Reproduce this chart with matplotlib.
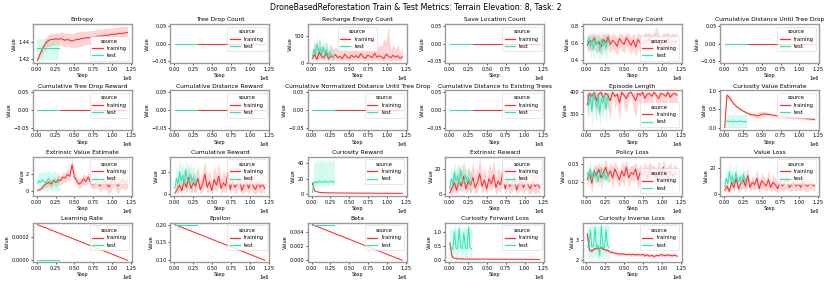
import numpy as np
import matplotlib
matplotlib.use("Agg")
import matplotlib.pyplot as plt
from matplotlib.lines import Line2D

# ---------------- data ----------------
train_steps = np.linspace(10_000, 1_200_000, 40)
test_steps = np.linspace(10_000, 300_000, 15)
lin_train_steps = [10_000, 1_200_000]
lin_test_steps = [10_000, 300_000]

entropy_tr = [1.418, 1.425, 1.431, 1.436, 1.440, 1.442, 1.443, 1.443, 1.444, 1.443,
              1.444, 1.443, 1.442, 1.443, 1.442, 1.441, 1.442, 1.443, 1.443, 1.444,
              1.444, 1.445, 1.445, 1.445, 1.446, 1.446, 1.447, 1.447, 1.447, 1.448,
              1.448, 1.448, 1.449, 1.449, 1.449, 1.450, 1.450, 1.450, 1.451, 1.451]
entropy_tr_err = [0.001, 0.003, 0.005, 0.006, 0.006, 0.007, 0.007, 0.007, 0.007, 0.007,
                  0.008, 0.008, 0.008, 0.008, 0.008, 0.008, 0.009, 0.009, 0.009, 0.009,
                  0.008, 0.008, 0.008, 0.008, 0.008, 0.008, 0.008, 0.008, 0.008, 0.008,
                  0.008, 0.008, 0.008, 0.008, 0.008, 0.008, 0.008, 0.008, 0.008, 0.007]
entropy_te = [1.433, 1.433, 1.433, 1.433, 1.433, 1.433, 1.433, 1.433, 1.433, 1.433,
              1.433, 1.433, 1.433, 1.433, 1.433]
entropy_te_lo = [1.419] * 15
entropy_te_hi = [1.443] * 15

recharge_tr = [80, 150, 60, 200, 120, 90, 180, 70, 130, 100, 150, 90, 120, 70, 160, 110,
               80, 140, 100, 130, 90, 170, 110, 80, 140, 120, 90, 180, 100, 130, 110, 70,
               160, 120, 90, 140, 100, 130, 80, 110]
recharge_tr_lo = [30, 60, 20, 80, 50, 30, 70, 20, 50, 40, 60, 30, 50, 20, 60, 40, 30, 50,
                  40, 50, 30, 70, 40, 30, 50, 40, 30, 70, 40, 50, 40, 20, 60, 40, 30, 50,
                  40, 50, 30, 40]
recharge_tr_hi = [200, 400, 250, 450, 300, 250, 400, 200, 350, 250, 300, 250, 350, 200,
                  400, 300, 250, 350, 250, 350, 250, 400, 300, 200, 350, 300, 250, 450,
                  250, 350, 300, 450, 400, 700, 250, 350, 250, 350, 200, 300]
recharge_te = [120, 250, 150, 350, 200, 280, 150, 300, 180, 250, 120, 200, 150, 100, 130]
recharge_te_lo = [40, 100, 50, 150, 80, 100, 50, 120, 60, 100, 40, 80, 50, 30, 50]
recharge_te_hi = [250, 450, 350, 500, 400, 480, 300, 480, 350, 400, 250, 350, 300, 200, 250]

ooe_tr = [0.57, 0.63, 0.60, 0.66, 0.58, 0.62, 0.55, 0.64, 0.60, 0.67, 0.58, 0.63, 0.60,
          0.56, 0.65, 0.61, 0.58, 0.66, 0.62, 0.57, 0.63, 0.55, 0.64, 0.60, 0.58, 0.63,
          0.61, 0.66, 0.59, 0.62, 0.64, 0.60, 0.57, 0.63, 0.61, 0.65, 0.59, 0.62, 0.60, 0.63]
ooe_tr_lo = [0.48, 0.53, 0.50, 0.55, 0.47, 0.52, 0.44, 0.54, 0.50, 0.57, 0.48, 0.53, 0.50,
             0.45, 0.55, 0.51, 0.48, 0.56, 0.52, 0.46, 0.53, 0.44, 0.54, 0.50, 0.48, 0.53,
             0.51, 0.56, 0.49, 0.52, 0.54, 0.50, 0.46, 0.53, 0.51, 0.55, 0.49, 0.52, 0.50, 0.53]
ooe_tr_hi = [0.66, 0.71, 0.70, 0.72, 0.68, 0.71, 0.66, 0.72, 0.70, 0.72, 0.68, 0.72, 0.70,
             0.66, 0.72, 0.71, 0.68, 0.72, 0.71, 0.67, 0.72, 0.66, 0.72, 0.70, 0.68, 0.72,
             0.71, 0.72, 0.69, 0.72, 0.80, 0.70, 0.67, 0.72, 0.71, 0.72, 0.69, 0.72, 0.70, 0.72]
ooe_te = [0.60, 0.66, 0.55, 0.63, 0.52, 0.65, 0.58, 0.62, 0.50, 0.64, 0.57, 0.61, 0.54, 0.63, 0.60]
ooe_te_lo = [0.48, 0.55, 0.40, 0.50, 0.38, 0.52, 0.45, 0.48, 0.38, 0.52, 0.44, 0.50, 0.40, 0.50, 0.48]
ooe_te_hi = [0.68, 0.72, 0.66, 0.72, 0.65, 0.72, 0.68, 0.72, 0.63, 0.72, 0.68, 0.72, 0.66, 0.72, 0.70]

eplen_tr = [340, 395, 380, 400, 360, 390, 400, 370, 395, 385, 360, 400, 380, 390, 350, 400,
            385, 370, 395, 400, 380, 360, 395, 385, 400, 370, 390, 395, 380, 400, 385, 370,
            395, 390, 380, 400, 375, 390, 395, 385]
eplen_tr_lo = [280, 350, 320, 380, 290, 340, 390, 300, 360, 330, 270, 390, 320, 350, 260,
               390, 330, 300, 360, 390, 320, 280, 360, 340, 390, 300, 350, 360, 320, 390,
               340, 300, 360, 350, 320, 390, 310, 350, 360, 340]
eplen_tr_hi = [400] * 40
eplen_te = [390, 340, 380, 310, 395, 360, 330, 385, 300, 370, 350, 390, 320, 380, 360]
eplen_te_lo = [330, 270, 320, 240, 350, 290, 260, 330, 235, 300, 280, 340, 250, 320, 300]
eplen_te_hi = [400] * 15

curval_tr = [0.00, 0.88, 0.82, 0.72, 0.64, 0.58, 0.53, 0.49, 0.45, 0.42, 0.39, 0.36, 0.35,
             0.34, 0.32, 0.33, 0.36, 0.37, 0.37, 0.36, 0.35, 0.34, 0.33, 0.32, 0.31, 0.30,
             0.29, 0.29, 0.28, 0.28, 0.27, 0.27, 0.26, 0.26, 0.25, 0.25, 0.24, 0.24, 0.23, 0.22]
curval_tr_err = [0.0, 0.08, 0.05, 0.04, 0.03, 0.03, 0.03, 0.03, 0.03, 0.03, 0.03, 0.03,
                 0.04, 0.05, 0.07, 0.09, 0.08, 0.06, 0.05, 0.04, 0.04, 0.03, 0.03, 0.03,
                 0.03, 0.03, 0.03, 0.03, 0.03, 0.03, 0.03, 0.03, 0.03, 0.03, 0.03, 0.03,
                 0.03, 0.03, 0.03, 0.03]
curval_te = [0.17, 0.18, 0.17, 0.16, 0.17, 0.18, 0.17, 0.17, 0.16, 0.17, 0.18, 0.17, 0.17, 0.16, 0.17]
curval_te_lo = [0.00] * 15
curval_te_hi = [0.33] * 15

extval_tr = [0.1, 0.2, 0.4, 0.7, 0.9, 1.0, 0.8, 1.2, 1.0, 1.3, 1.2, 1.6, 1.5, 1.9, 1.7,
             3.0, 1.6, 1.2, 0.8, 1.0, 1.4, 1.1, 1.6, 1.0, 0.7, 0.9, 1.1, 0.6, 0.9, 1.2,
             0.8, 0.5, 1.0, 1.3, 0.9, 0.6, 1.1, 1.3, 0.9, 1.2]
extval_tr_err = [0.05, 0.1, 0.2, 0.3, 0.4, 0.4, 0.4, 0.5, 0.5, 0.5, 0.5, 0.6, 0.5, 0.6,
                 0.6, 0.7, 0.6, 0.5, 0.5, 0.5, 0.6, 0.5, 0.6, 0.5, 0.5, 0.6, 0.6, 0.7,
                 0.7, 0.8, 0.7, 0.8, 0.9, 0.8, 0.8, 0.9, 0.8, 0.9, 0.8, 0.8]
extval_te = [0.9, 1.2, 1.0, 1.3, 1.1, 1.0, 1.2, 1.4, 1.1, 1.0, 1.3, 1.2, 1.1, 1.0, 1.2]
extval_te_lo = [0.0, 0.1, 0.0, 0.2, 0.1, 0.0, 0.1, 0.2, 0.1, 0.0, 0.2, 0.1, 0.0, 0.0, 0.1]
extval_te_hi = [2.0, 2.3, 2.1, 2.3, 2.2, 2.0, 2.2, 2.4, 2.1, 2.0, 2.3, 2.2, 2.1, 2.0, 2.2]

cumrew_tr = [1, 4, 8, 3, 12, 6, 15, 5, 10, 7, 14, 4, 9, 18, 6, 11, 3, 13, 8, 16, 5, 10, 7,
             19, 4, 12, 6, 9, 14, 3, 8, 11, 5, 13, 7, 4, 10, 6, 9, 5]
cumrew_tr_lo = [0, 0, 2, 0, 5, 1, 7, 0, 3, 1, 6, 0, 2, 9, 0, 4, 0, 5, 2, 8, 0, 3, 1, 10,
                0, 5, 0, 2, 6, 0, 2, 4, 0, 5, 1, 0, 3, 0, 2, 0]
cumrew_tr_hi = [5, 12, 18, 10, 24, 15, 28, 13, 20, 16, 26, 12, 20, 30, 15, 22, 10, 25, 18,
                28, 13, 21, 16, 30, 12, 24, 15, 19, 26, 10, 18, 22, 13, 25, 16, 12, 21, 15, 19, 13]
cumrew_te = [5, 14, 9, 20, 12, 17, 8, 22, 13, 10, 18, 11, 15, 9, 13]
cumrew_te_lo = [0, 4, 1, 8, 3, 6, 0, 10, 3, 1, 7, 2, 5, 0, 4]
cumrew_te_hi = [15, 26, 20, 32, 24, 28, 18, 31, 25, 20, 28, 22, 26, 18, 24]

currew_tr = [14, 4, 2.8, 2.2, 1.9, 1.7, 1.6, 1.5, 1.5, 1.4, 1.4, 1.4, 1.3, 1.3, 1.3, 1.3,
             1.2, 1.2, 1.2, 1.2, 1.2, 1.1, 1.1, 1.1, 1.1, 1.1, 1.1, 1.0, 1.0, 1.0, 1.0,
             1.0, 1.0, 1.0, 0.9, 0.9, 0.9, 0.9, 0.9, 0.9]
currew_tr_err = [2.0, 0.6, 0.3, 0.2, 0.2, 0.2, 0.15, 0.15, 0.15, 0.1, 0.1, 0.1, 0.1, 0.1,
                 0.1, 0.1, 0.1, 0.1, 0.1, 0.1, 0.1, 0.1, 0.1, 0.1, 0.1, 0.1, 0.1, 0.1,
                 0.1, 0.1, 0.1, 0.1, 0.1, 0.1, 0.1, 0.1, 0.1, 0.1, 0.1, 0.1]
currew_te = [2, 15, 16, 14, 17, 15, 16, 15, 17, 16, 15, 16, 17, 15, 16]
currew_te_lo = [0, 6, 12, 8, 13, 10, 12, 9, 13, 11, 10, 12, 13, 10, 12]
currew_te_hi = [5, 44, 38, 46, 40, 45, 42, 46, 39, 44, 43, 46, 41, 45, 46]

extrew_tr = [1, 5, 9, 3, 11, 6, 14, 4, 10, 7, 13, 5, 9, 16, 6, 11, 4, 12, 8, 15, 5, 10, 7,
             17, 4, 11, 6, 9, 13, 3, 8, 10, 5, 12, 7, 4, 10, 6, 8, 5]
extrew_tr_lo = [0, 0, 2, 0, 4, 1, 6, 0, 3, 1, 5, 0, 2, 8, 0, 4, 0, 5, 2, 7, 0, 3, 1, 9, 0,
                4, 0, 2, 5, 0, 2, 3, 0, 4, 1, 0, 3, 0, 2, 0]
extrew_tr_hi = [4, 13, 20, 11, 24, 15, 27, 12, 21, 16, 25, 13, 20, 28, 15, 22, 11, 24, 18,
                27, 13, 21, 16, 28, 12, 23, 15, 19, 25, 10, 18, 21, 13, 24, 16, 12, 21, 15, 18, 13]
extrew_te = [4, 12, 8, 17, 10, 15, 7, 19, 11, 9, 15, 10, 13, 8, 11]
extrew_te_lo = [0, 3, 1, 7, 2, 5, 0, 8, 3, 1, 6, 2, 4, 0, 3]
extrew_te_hi = [12, 22, 18, 26, 20, 24, 16, 25, 21, 18, 24, 19, 22, 16, 20]

polloss_tr = [0.021, 0.025, 0.019, 0.026, 0.023, 0.027, 0.022, 0.025, 0.028, 0.023, 0.026,
              0.022, 0.027, 0.024, 0.021, 0.026, 0.023, 0.028, 0.022, 0.025, 0.024, 0.027,
              0.021, 0.025, 0.023, 0.026, 0.022, 0.027, 0.024, 0.025, 0.022, 0.026, 0.023,
              0.028, 0.024, 0.022, 0.026, 0.023, 0.025, 0.024]
polloss_tr_err = [0.003, 0.004, 0.006, 0.004, 0.005, 0.004, 0.006, 0.004, 0.005, 0.004,
                  0.005, 0.006, 0.004, 0.005, 0.004, 0.005, 0.006, 0.004, 0.005, 0.004,
                  0.005, 0.004, 0.006, 0.005, 0.004, 0.005, 0.006, 0.004, 0.005, 0.004,
                  0.005, 0.006, 0.004, 0.005, 0.004, 0.006, 0.005, 0.004, 0.005, 0.004]
polloss_te = [0.025, 0.022, 0.027, 0.021, 0.026, 0.023, 0.025, 0.020, 0.024, 0.027, 0.022,
              0.025, 0.021, 0.024, 0.023]
polloss_te_err = [0.003, 0.004, 0.005, 0.003, 0.004, 0.003, 0.005, 0.003, 0.004, 0.005,
                  0.003, 0.004, 0.003, 0.004, 0.003]

valloss_tr = [3, 6, 2, 9, 5, 12, 4, 8, 11, 6, 14, 5, 9, 7, 12, 4, 10, 8, 6, 11, 5, 9, 7, 4,
              10, 6, 8, 12, 5, 7, 9, 6, 8, 5, 10, 7, 6, 8, 7, 6]
valloss_tr_err = [2, 3, 2, 5, 3, 7, 3, 5, 6, 4, 8, 3, 5, 4, 7, 3, 6, 5, 4, 7, 3, 6, 5, 3,
                  6, 4, 5, 8, 3, 5, 6, 4, 5, 3, 6, 5, 4, 5, 4, 4]
valloss_te = [6, 12, 8, 17, 10, 14, 7, 16, 11, 9, 13, 8, 15, 10, 12]
valloss_te_err = [4, 7, 5, 10, 6, 8, 4, 9, 7, 5, 8, 5, 9, 6, 7]

lr_tr = [0.0003, 0.0]
lr_te = [0.0, 0.0]
eps_tr = [0.2, 0.1]
eps_te = [0.2, 0.2]
beta_tr = [0.005, 0.0]
beta_te = [0.005, 0.005]

fwd_tr = [0.6, 0.12, 0.07, 0.055, 0.05, 0.048, 0.045, 0.045, 0.044, 0.043, 0.042, 0.042,
          0.041, 0.040, 0.040, 0.039, 0.039, 0.038, 0.038, 0.037, 0.037, 0.036, 0.036,
          0.035, 0.035, 0.035, 0.034, 0.034, 0.034, 0.033, 0.033, 0.033, 0.032, 0.032,
          0.032, 0.031, 0.031, 0.031, 0.030, 0.030]
fwd_tr_err = [0.05, 0.03] + [0.01] * 38
fwd_te = [0.4, 0.45, 0.38, 1.0, 0.42, 0.4, 1.1, 0.44, 0.41, 0.95, 0.43, 0.4, 1.15, 0.42, 0.4]
fwd_te_lo = [0.02, 0.0, 0.03, 0.3, 0.0, 0.02, 0.4, 0.0, 0.02, 0.3, 0.0, 0.03, 0.5, 0.0, 0.02]
fwd_te_hi = [1.1, 1.15, 1.05, 1.2, 1.1, 1.12, 1.22, 1.1, 1.05, 1.18, 1.12, 1.1, 1.24, 1.1, 1.15]

inv_tr = [3.3, 2.5, 2.45, 2.55, 2.6, 2.55, 2.62, 2.55, 2.5, 2.48, 2.4, 2.38, 2.35, 2.33,
          2.3, 2.32, 2.3, 2.28, 2.3, 2.27, 2.3, 2.26, 2.29, 2.25, 2.3, 2.22, 2.27, 2.2,
          2.25, 2.18, 2.24, 2.22, 2.28, 2.25, 2.22, 2.27, 2.24, 2.22, 2.26, 2.2]
inv_tr_err = [0.3, 0.1, 0.08, 0.08, 0.08, 0.08, 0.08, 0.08, 0.08, 0.08, 0.07, 0.07, 0.07,
              0.07, 0.07, 0.07, 0.07, 0.07, 0.07, 0.07, 0.07, 0.07, 0.07, 0.07, 0.07,
              0.08, 0.08, 0.08, 0.08, 0.09, 0.08, 0.08, 0.08, 0.08, 0.08, 0.08, 0.08,
              0.08, 0.08, 0.08]
inv_te = [2.7, 2.6, 3.5, 2.65, 2.7, 3.6, 2.6, 2.75, 2.2, 3.7, 2.65, 2.6, 3.5, 2.7, 2.65]
inv_te_lo = [2.0, 2.1, 2.2, 2.0, 2.1, 2.3, 2.0, 2.1, 2.0, 2.4, 2.0, 2.1, 2.2, 2.0, 2.1]
inv_te_hi = [3.7, 3.7, 3.75, 3.7, 3.7, 3.75, 3.7, 3.7, 3.6, 3.75, 3.7, 3.7, 3.75, 3.7, 3.7]

titles = ["Entropy", "Tree Drop Count", "Recharge Energy Count", "Save Location Count",
          "Out of Energy Count", "Cumulative Distance Until Tree Drop",
          "Cumulative Tree Drop Reward", "Cumulative Distance Reward",
          "Cumulative Normalized Distance Until Tree Drop",
          "Cumulative Distance to Existing Trees", "Episode Length",
          "Curiosity Value Estimate", "Extrinsic Value Estimate", "Cumulative Reward",
          "Curiosity Reward", "Extrinsic Reward", "Policy Loss", "Value Loss",
          "Learning Rate", "Epsilon", "Beta", "Curiosity Forward Loss",
          "Curiosity Inverse Loss"]
x_ticks = [0, 250_000, 500_000, 750_000, 1_000_000, 1_250_000]

suptitle = "DroneBasedReforestation Train & Test Metrics: Terrain Elevation: 8, Task: 2"

# ---------------- style ----------------
TRAIN_C = "#ff2a2a"
TEST_C = "#2ee6b4"
FS = 3.6

plt.rcParams.update({
    "font.family": "DejaVu Sans",
    "font.size": FS,
    "axes.edgecolor": "#9a9a9a",
    "axes.linewidth": 1.0,
    "xtick.major.size": 1.5,
    "ytick.major.size": 1.5,
    "xtick.major.width": 0.5,
    "ytick.major.width": 0.5,
    "xtick.major.pad": 1.2,
    "ytick.major.pad": 1.2,
    "xtick.labelsize": FS,
    "ytick.labelsize": FS,
    "axes.labelsize": FS,
    "axes.labelpad": 1.0,
})


def arr(v):
    return np.asarray(v, dtype=float)


def series(steps, mean, lo=None, hi=None, err=None):
    m = arr(mean)
    if err is not None:
        lo = m - arr(err)
        hi = m + arr(err)
    elif lo is None:
        lo = m
        hi = m
    return dict(x=arr(steps), m=m, lo=arr(lo), hi=arr(hi))


zeros_tr = series(train_steps, np.zeros(len(train_steps)))
zeros_te = series(test_steps, np.zeros(len(test_steps)))

panels = [
    (series(train_steps, entropy_tr, err=entropy_tr_err),
     series(test_steps, entropy_te, entropy_te_lo, entropy_te_hi), [1.42, 1.44], "lower right"),
    (zeros_tr, zeros_te, [-0.05, 0, 0.05], "upper right"),
    (series(train_steps, recharge_tr, recharge_tr_lo, recharge_tr_hi),
     series(test_steps, recharge_te, recharge_te_lo, recharge_te_hi), [0, 500], "upper center"),
    (zeros_tr, zeros_te, [-0.05, 0, 0.05], "upper right"),
    (series(train_steps, ooe_tr, ooe_tr_lo, ooe_tr_hi),
     series(test_steps, ooe_te, ooe_te_lo, ooe_te_hi), [0.4, 0.6, 0.8], "lower right"),
    (zeros_tr, zeros_te, [-0.05, 0, 0.05], "upper right"),
    (zeros_tr, zeros_te, [-0.05, 0, 0.05], "upper right"),
    (zeros_tr, zeros_te, [-0.05, 0, 0.05], "upper right"),
    (zeros_tr, zeros_te, [-0.05, 0, 0.05], "upper right"),
    (zeros_tr, zeros_te, [-0.05, 0, 0.05], "upper right"),
    (series(train_steps, eplen_tr, eplen_tr_lo, eplen_tr_hi),
     series(test_steps, eplen_te, eplen_te_lo, eplen_te_hi), [300, 400], "lower right"),
    (series(train_steps, curval_tr, err=curval_tr_err),
     series(test_steps, curval_te, curval_te_lo, curval_te_hi), [0.0, 0.5, 1.0], "upper right"),
    (series(train_steps, extval_tr, err=extval_tr_err),
     series(test_steps, extval_te, extval_te_lo, extval_te_hi), [0, 2], "upper right"),
    (series(train_steps, cumrew_tr, cumrew_tr_lo, cumrew_tr_hi),
     series(test_steps, cumrew_te, cumrew_te_lo, cumrew_te_hi), [0, 20], "upper right"),
    (series(train_steps, currew_tr, err=currew_tr_err),
     series(test_steps, currew_te, currew_te_lo, currew_te_hi), [0, 20, 40], "upper right"),
    (series(train_steps, extrew_tr, extrew_tr_lo, extrew_tr_hi),
     series(test_steps, extrew_te, extrew_te_lo, extrew_te_hi), [0, 20], "upper right"),
    (series(train_steps, polloss_tr, err=polloss_tr_err),
     series(test_steps, polloss_te, err=polloss_te_err), [0.02, 0.03], "lower right"),
    (series(train_steps, valloss_tr, err=valloss_tr_err),
     series(test_steps, valloss_te, err=valloss_te_err), [0, 20], "upper right"),
    (series(lin_train_steps, lr_tr), series(lin_test_steps, lr_te), [0.0, 0.0002], "upper right"),
    (series(lin_train_steps, eps_tr), series(lin_test_steps, eps_te), [0.10, 0.15, 0.20], "upper right"),
    (series(lin_train_steps, beta_tr), series(lin_test_steps, beta_te), [0.0, 0.002, 0.004], "upper right"),
    (series(train_steps, fwd_tr, err=fwd_tr_err),
     series(test_steps, fwd_te, fwd_te_lo, fwd_te_hi), [0.0, 0.5, 1.0], "upper right"),
    (series(train_steps, inv_tr, err=inv_tr_err),
     series(test_steps, inv_te, inv_te_lo, inv_te_hi), [2, 3], "upper right"),
]

fig, axes = plt.subplots(4, 6, figsize=(8.31, 2.83), dpi=100)
fig.subplots_adjust(left=0.0397, right=0.9856, top=0.915, bottom=0.074,
                    wspace=0.39, hspace=0.69)
fig.suptitle(suptitle, fontsize=5.7, y=0.99)

flat = axes.ravel()
for i, (tr, te, yt, loc) in enumerate(panels):
    ax = flat[i]
    for s, c in ((tr, TRAIN_C), (te, TEST_C)):
        ax.fill_between(s["x"], s["lo"], s["hi"], color=c, alpha=0.2, lw=0)
        ax.plot(s["x"], s["m"], color=c, lw=0.75)
    ax.set_title(titles[i], fontsize=4.3, pad=2)
    ax.set_xlabel("Step")
    ax.set_ylabel("Value")
    ax.set_xticks(x_ticks)
    ax.set_yticks(yt)
    ax.xaxis.get_offset_text().set_fontsize(FS)
    for sp in ax.spines.values():
        sp.set_color("#9a9a9a")
    handles = [Line2D([], [], color=TRAIN_C, lw=0.9), Line2D([], [], color=TEST_C, lw=0.9)]
    leg = ax.legend(handles, ["training", "test"], title="source", loc=loc,
                    fontsize=3.7, title_fontsize=3.7, borderpad=0.5, labelspacing=0.45,
                    handlelength=2.0, handletextpad=0.8, borderaxespad=0.5)
    leg.get_frame().set_linewidth(0.4)

flat[23].axis("off")

fig.savefig("out.png", dpi=100)
